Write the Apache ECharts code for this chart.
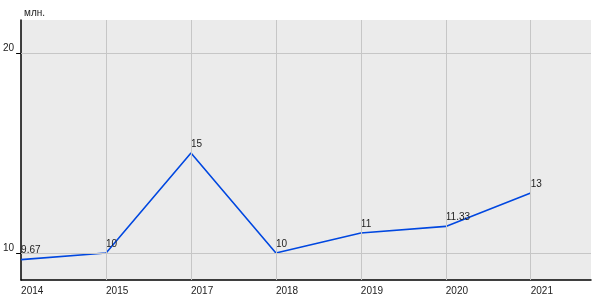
<!DOCTYPE html>
<html><head><meta charset="utf-8">
<script src="https://cdn.jsdelivr.net/npm/echarts@6/dist/echarts.min.js"></script>
<style>html,body{margin:0;padding:0;background:#fff}#c{width:600px;height:300px}</style>
</head><body><div id="c"></div>
<script>
const years = ['2014','2015','2017','2018','2019','2020','2021'];
const values = [9.67, 10, 15, 10, 11, 11.33, 13];
const yTicks = [10, 20];
const unitLabel = 'млн.';

const xIdx = years.map((_, i) => i);
const font = 'Liberation Sans, Arial, sans-serif';
const gridColor = '#c6c6c6';

const chart = echarts.init(document.getElementById('c'), null, {renderer: 'canvas'});
chart.setOption({
  animation: false,
  backgroundColor: '#ffffff',
  title: {text: unitLabel, left: 19, top: 3, textStyle: {fontSize: 10, fontWeight: 'normal', color: '#222', fontFamily: font}},
  grid: {left: 21, right: 9, top: 20, bottom: 20, show: true, backgroundColor: '#ebebeb', borderWidth: 0},
  xAxis: {
    type: 'value', min: 0, max: 6.71,
    axisLine: {show: true, onZero: false, lineStyle: {color: '#000', width: 1.5}},
    axisTick: {show: false},
    splitLine: {show: false},
    axisLabel: {customValues: xIdx, formatter: v => years[Math.round(v)] || '', align: 'left', margin: 6,
      fontSize: 10, color: '#222', fontFamily: font}
  },
  yAxis: {
    type: 'value', min: 8.65, max: 21.65,
    axisLine: {show: true, onZero: false, lineStyle: {color: '#000', width: 1.5}},
    axisTick: {show: true, inside: false, customValues: yTicks, length: 5, lineStyle: {color: '#000', width: 1}},
    splitLine: {show: false},
    axisLabel: {customValues: yTicks, margin: 7, verticalAlign: 'bottom', fontSize: 10, color: '#222', fontFamily: font}
  },
  series: [
    {
      type: 'line', data: [], silent: true, z: 1,
      markLine: {
        silent: true, symbol: 'none', animation: false, label: {show: false},
        lineStyle: {color: gridColor, width: 1, type: 'solid'},
        data: xIdx.slice(1).map(i => ({xAxis: i})).concat(yTicks.map(v => ({yAxis: v})))
      }
    },
    {
      type: 'line', z: 3,
      data: xIdx.map(i => [i, values[i]]),
      showSymbol: true, symbol: 'circle', symbolSize: 0,
      itemStyle: {color: '#0047e0'},
      lineStyle: {color: '#0047e0', width: 1.6},
      label: {show: true, position: [0, -4], align: 'left', verticalAlign: 'bottom',
        fontSize: 10, color: '#222', fontFamily: font, formatter: p => String(values[p.dataIndex])}
    }
  ]
});
</script></body></html>
